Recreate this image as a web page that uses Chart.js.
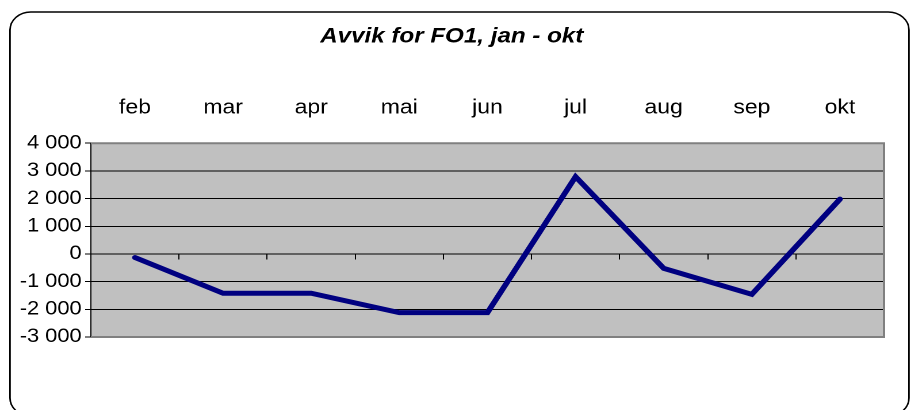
<!DOCTYPE html>
<html>
<head>
<meta charset="utf-8">
<script src="https://cdn.jsdelivr.net/npm/chart.js@4/dist/chart.umd.min.js"></script>
<style>
  html, body { margin:0; padding:0; background:#fff; overflow:hidden; }
  #wrap { width:792px; height:410px; transform:scaleX(1.1503); transform-origin:0 0; }
</style>
</head>
<body>
<div id="wrap"><canvas id="c" width="792" height="410"></canvas></div>
<script>
const months = ['feb','mar','apr','mai','jun','jul','aug','sep','okt'];
const avvik = [-130, -1420, -1420, -2120, -2120, 2790, -520, -1460, 1980];
const yMin = -3000, yMax = 4000, yStep = 1000;
const titleText = 'Avvik for FO1, jan - okt';

const FONT = '"Liberation Sans", Arial, Helvetica, sans-serif';

function fmt(v) {
  const s = Math.abs(v).toString().replace(/\B(?=(\d{3})+(?!\d))/g, ' ');
  return (v < 0 ? '-' : '') + s;
}

const frame = {
  id: 'frame',
  beforeDraw(chart) {
    const {ctx, chartArea: a} = chart;
    ctx.save();
    ctx.strokeStyle = '#000';
    ctx.lineWidth = 1.4;
    ctx.beginPath();
    ctx.roundRect(8.7, 12, 781.5, 404, 18);
    ctx.stroke();
    ctx.fillStyle = '#C0C0C0';
    ctx.fillRect(a.left, a.top, a.right - a.left, a.bottom - a.top);
    ctx.restore();
  },
  afterDraw(chart) {
    const {ctx, chartArea: a} = chart;
    ctx.save();
    ctx.strokeStyle = '#808080';
    ctx.lineWidth = 2;
    ctx.beginPath();
    ctx.moveTo(a.left, a.top);
    ctx.lineTo(a.right, a.top);
    ctx.lineTo(a.right, a.bottom);
    ctx.lineTo(a.left, a.bottom);
    ctx.stroke();
    ctx.restore();
  }
};

new Chart(document.getElementById('c'), {
  type: 'line',
  data: {
    labels: months,
    datasets: [{
      data: avvik,
      borderColor: '#000080',
      borderWidth: 5,
      borderJoinStyle: 'miter',
      borderCapStyle: 'round',
      pointRadius: 0,
      tension: 0,
      fill: false,
      xAxisID: 'x',
      yAxisID: 'y'
    }]
  },
  options: {
    responsive: false,
    animation: false,
    devicePixelRatio: 2,
    layout: { padding: { left: 17, right: 23.5, top: 0, bottom: 73 } },
    plugins: {
      legend: { display: false },
      tooltip: { enabled: false },
      title: {
        display: true,
        text: titleText,
        color: '#000',
        font: { family: FONT, size: 21, weight: 'bold', style: 'italic' },
        padding: { top: 24, bottom: 24 }
      }
    },
    scales: {
      x: {
        type: 'category',
        position: 'top',
        offset: true,
        grid: { display: false, drawTicks: false },
        border: { display: false },
        ticks: { color: '#000', padding: 23, maxRotation: 0, autoSkip: false,
                 font: { family: FONT, size: 20 } }
      },
      x2: {
        type: 'category',
        position: { y: 0 },
        offset: true,
        grid: { offset: true, drawOnChartArea: false, drawTicks: true, tickLength: 5, color: '#000', lineWidth: 1 },
        border: { display: true, color: '#000', width: 1 },
        ticks: { display: false }
      },
      y: {
        min: yMin,
        max: yMax,
        ticks: { stepSize: yStep, autoSkip: false, color: '#000', padding: 3,
                 font: { family: FONT, size: 19 }, callback: (v) => fmt(v) },
        grid: { color: '#000', lineWidth: 1, tickLength: 5, drawTicks: true },
        border: { display: true, color: '#000', width: 1 },
        afterFit(s) { s.width = 62; }
      }
    }
  },
  plugins: [frame]
});
</script>
</body>
</html>
